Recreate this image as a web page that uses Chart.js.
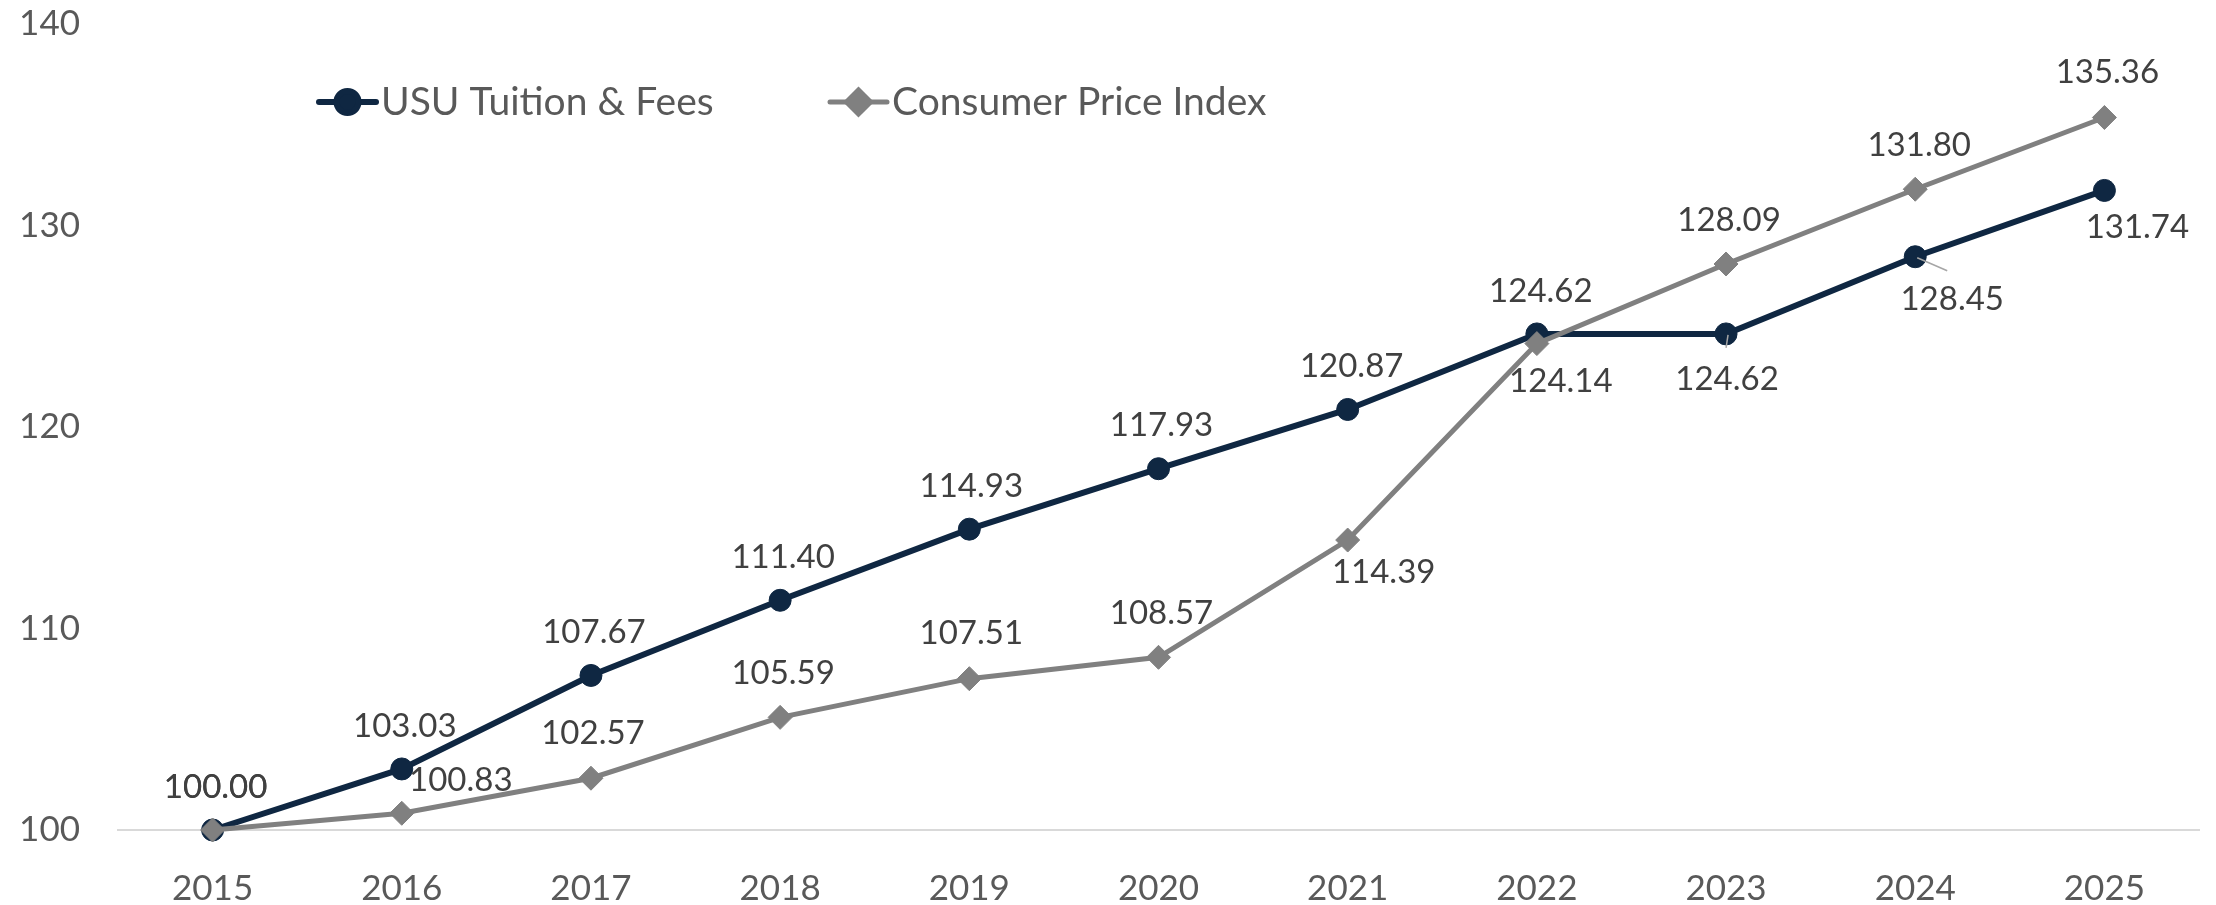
<!DOCTYPE html>
<html>
<head>
<meta charset="utf-8">
<title>USU Tuition &amp; Fees vs Consumer Price Index</title>
<script src="https://cdn.jsdelivr.net/npm/chart.js@4.4.1/dist/chart.umd.min.js"></script>
<style>
  html, body { margin: 0; padding: 0; background: #ffffff; }
  #wrap { width: 2216px; height: 905px; position: relative; }
</style>
</head>
<body>
<div id="wrap"><canvas id="chart"></canvas></div>
<script>
// Data
const years = ['2015', '2016', '2017', '2018', '2019', '2020', '2021', '2022', '2023', '2024', '2025'];
const tuition = [100.00, 103.03, 107.67, 111.40, 114.93, 117.93, 120.87, 124.62, 124.62, 128.45, 131.74];
const cpi = [100.00, 100.83, 102.57, 105.59, 107.51, 108.57, 114.39, 124.14, 128.09, 131.80, 135.36];
const yTicks = [100, 110, 120, 130, 140];
const seriesNames = ['USU Tuition & Fees', 'Consumer Price Index'];

const NAVY = '#0F2742';
const GRAY = '#808080';
const FONT = 'Lato';

// where each value label sits relative to its point (dx, dy of label centre)
const labelOffsets = [
    [[3, -43], [3, -43], [3, -43], [3, -43], [2, -43], [3, -43], [4, -43], [4, -43], [1, 45], [37, 43], [33, 37]],
    [[3, -43], [59, -33], [2, -45], [3, -44], [2, -45], [3, -44], [36, 32], [24, 38], [3, -44], [4, -44], [3, -45]]
];
// small leader lines Excel drew for a couple of moved labels
const leaderEnds = [
    [null, null, null, null, null, null, null, null, [0, 14], [32, 14], null],
    []
];

const valueLabels = {
    id: 'valueLabels',
    afterDatasetsDraw(chart) {
        const ctx = chart.ctx;
        ctx.save();
        chart.data.datasets.forEach((ds, i) => {
            const meta = chart.getDatasetMeta(i);
            meta.data.forEach((pt, j) => {
                const lead = leaderEnds[i][j];
                if (lead) {
                    ctx.strokeStyle = '#A6A6A6';
                    ctx.lineWidth = 1.5;
                    ctx.beginPath();
                    ctx.moveTo(pt.x + 2, pt.y + 1);
                    ctx.lineTo(pt.x + lead[0], pt.y + lead[1]);
                    ctx.stroke();
                }
                const off = labelOffsets[i][j];
                ctx.font = `33px ${FONT}`;
                ctx.fillStyle = '#404040';
                ctx.textAlign = 'center';
                ctx.textBaseline = 'middle';
                ctx.fillText(ds.data[j].toFixed(2), pt.x + off[0], pt.y + off[1]);
            });
        });
        ctx.restore();
    }
};

// legend drawn inside the plot, line + marker like Excel
const insideLegend = {
    id: 'insideLegend',
    afterDraw(chart) {
        const ctx = chart.ctx;
        const starts = [319, 830];
        const y = 102;
        ctx.save();
        chart.data.datasets.forEach((ds, i) => {
            const x = starts[i];
            ctx.strokeStyle = ds.borderColor;
            ctx.lineWidth = ds.borderWidth;
            ctx.lineCap = 'round';
            ctx.beginPath();
            ctx.moveTo(x, y);
            ctx.lineTo(x + 57, y);
            ctx.stroke();
            ctx.fillStyle = ds.pointBackgroundColor;
            ctx.strokeStyle = ds.pointBorderColor;
            Chart.helpers.drawPoint(ctx, {
                pointStyle: ds.pointStyle,
                radius: ds.pointRadius,
                rotation: 0,
                borderWidth: 1
            }, x + 28.5, y);
            ctx.font = `39px ${FONT}`;
            ctx.fillStyle = '#595959';
            ctx.textAlign = 'left';
            ctx.textBaseline = 'middle';
            ctx.fillText(ds.label, x + 62, y);
        });
        ctx.restore();
    }
};

new Chart(document.getElementById('chart'), {
    type: 'line',
    data: {
        labels: years,
        datasets: [
            {
                label: seriesNames[0],
                data: tuition,
                borderColor: NAVY,
                borderWidth: 6,
                pointStyle: 'circle',
                pointRadius: 11,
                pointBackgroundColor: NAVY,
                pointBorderColor: NAVY,
                pointBorderWidth: 1,
                tension: 0,
                clip: false,
                order: 1
            },
            {
                label: seriesNames[1],
                data: cpi,
                borderColor: GRAY,
                borderWidth: 5,
                pointStyle: 'rectRot',
                pointRadius: 12,
                pointBackgroundColor: GRAY,
                pointBorderColor: GRAY,
                pointBorderWidth: 1,
                tension: 0,
                clip: false,
                order: 0
            }
        ]
    },
    options: {
        responsive: true,
        maintainAspectRatio: false,
        animation: false,
        layout: { padding: { top: 24, right: 17, left: 0, bottom: 0 } },
        plugins: {
            legend: { display: false },
            tooltip: { enabled: false }
        },
        scales: {
            x: {
                offset: true,
                grid: { display: false },
                border: { display: true, color: '#D9D9D9', width: 2 },
                ticks: { color: '#595959', font: { family: FONT, size: 35 }, padding: 30 },
                afterFit(scale) { scale.height = 75; }
            },
            y: {
                min: 100,
                max: 140,
                grid: { display: false, drawTicks: false },
                border: { display: false },
                afterBuildTicks(scale) { scale.ticks = yTicks.map(v => ({ value: v })); },
                ticks: { color: '#595959', font: { family: FONT, size: 35 }, padding: 38 },
                afterFit(scale) {
                    scale.width = 118;
                    scale.paddingTop = 0;
                    scale.paddingBottom = 0;
                }
            }
        }
    },
    plugins: [valueLabels, insideLegend]
});
</script>
</body>
</html>
